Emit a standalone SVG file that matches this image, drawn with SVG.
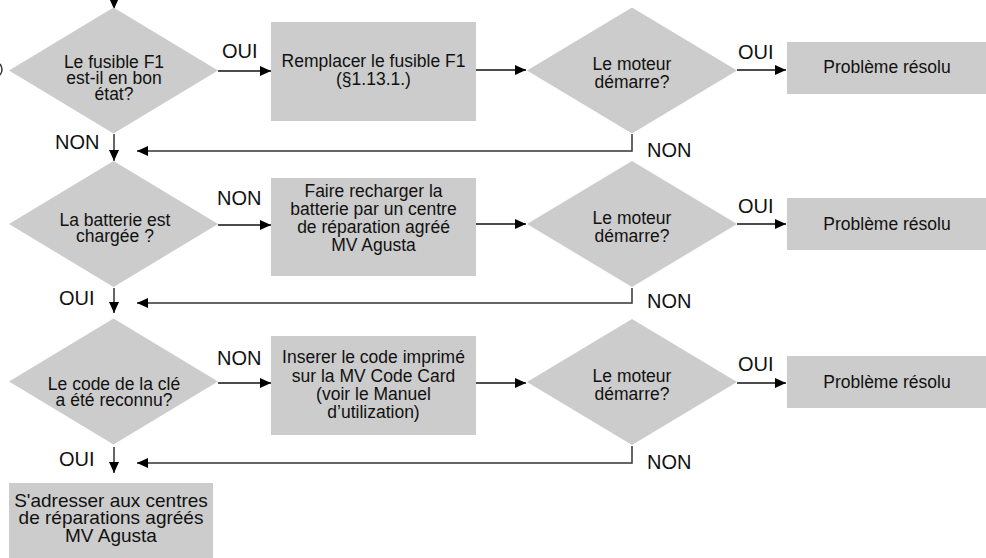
<svg xmlns="http://www.w3.org/2000/svg" width="986" height="558" viewBox="0 0 986 558">
<style>
.shape{fill:#cccccc;stroke:none}
.t{font-family:"Liberation Sans",Arial,sans-serif;font-size:17.5px;fill:#111;text-anchor:middle}
.t4{font-family:"Liberation Sans",Arial,sans-serif;font-size:19px;fill:#111;text-anchor:middle}
.lbl{font-family:"Liberation Sans",Arial,sans-serif;font-size:20px;fill:#111}
.c{fill:none;stroke:#111;stroke-width:1.3}
.r{fill:none;stroke:#333;stroke-width:1.5}
</style>
<defs>
<marker id="ah" markerWidth="11" markerHeight="10" refX="11" refY="5" orient="auto" markerUnits="userSpaceOnUse">
<path d="M0,0 L11,5 L0,10 z" fill="#000"/>
</marker>
</defs>
<path d="M0,64 Q4,69.5 0,75" fill="none" stroke="#333" stroke-width="1.5"/>
<g id="connectors">
<path class="c" d="M114,0 L114,9" marker-end="url(#ah)"/>
<path class="c" d="M218,71 L271,71" marker-end="url(#ah)"/>
<path class="c" d="M476,70 L526,70" marker-end="url(#ah)"/>
<path class="c" d="M737,70 L786,70" marker-end="url(#ah)"/>
<path class="r" d="M632,134 L632,151 L137,151" marker-end="url(#ah)"/>
<path class="c" d="M114,134 L114,161" marker-end="url(#ah)"/>
<path class="c" d="M218,225 L271,225" marker-end="url(#ah)"/>
<path class="c" d="M476,224 L526,224" marker-end="url(#ah)"/>
<path class="c" d="M737,224 L786,224" marker-end="url(#ah)"/>
<path class="r" d="M632,288 L632,303 L137,303" marker-end="url(#ah)"/>
<path class="c" d="M114,288 L114,313" marker-end="url(#ah)"/>
<path class="c" d="M218,383 L271,383" marker-end="url(#ah)"/>
<path class="c" d="M476,383 L526,383" marker-end="url(#ah)"/>
<path class="c" d="M737,383 L786,383" marker-end="url(#ah)"/>
<path class="r" d="M632,446 L632,463 L137,463" marker-end="url(#ah)"/>
<path class="c" d="M114,447 L114,473" marker-end="url(#ah)"/>
<text class="lbl" x="222" y="58">OUI</text>
<text class="lbl" x="738" y="59">OUI</text>
<text class="lbl" x="55" y="149">NON</text>
<text class="lbl" x="647" y="157">NON</text>
<text class="lbl" x="217" y="205">NON</text>
<text class="lbl" x="738" y="213">OUI</text>
<text class="lbl" x="59" y="305">OUI</text>
<text class="lbl" x="647" y="308">NON</text>
<text class="lbl" x="217" y="365">NON</text>
<text class="lbl" x="738" y="371">OUI</text>
<text class="lbl" x="59" y="466">OUI</text>
<text class="lbl" x="647" y="469">NON</text>
</g>
<g id="d1">
<polygon class="shape" points="113.5,7.5 218,70.5 113.5,133.5 9,70.5"/>
<text class="t" x="114" y="68">Le fusible F1</text>
<text class="t" x="114" y="84">est-il en bon</text>
<text class="t" x="114" y="99.5">état?</text>
</g>
<g id="b1">
<rect class="shape" x="271" y="22" width="205" height="99"/>
<text class="t" x="373.5" y="67">Remplacer le fusible F1</text>
<text class="t" x="373.5" y="85">(§1.13.1.)</text>
</g>
<g id="m1">
<polygon class="shape" points="632,7.5 737,70.5 632,133.5 527,70.5"/>
<text class="t" x="632" y="70">Le moteur</text>
<text class="t" x="632" y="88">démarre?</text>
</g>
<g id="r1">
<rect class="shape" x="787" y="42" width="199" height="52"/>
<text class="t" x="887" y="73">Problème résolu</text>
</g>
<g id="d2">
<polygon class="shape" points="113.5,161 218,224 113.5,287 9,224"/>
<text class="t" x="115" y="226">La batterie est</text>
<text class="t" x="115" y="242">chargée ?</text>
</g>
<g id="b2">
<rect class="shape" x="271" y="178" width="205" height="98"/>
<text class="t" x="373.5" y="197">Faire recharger la</text>
<text class="t" x="373.5" y="215">batterie par un centre</text>
<text class="t" x="373.5" y="233">de réparation agréé</text>
<text class="t" x="373.5" y="251">MV Agusta</text>
</g>
<g id="m2">
<polygon class="shape" points="632,161 737,224 632,287 527,224"/>
<text class="t" x="632" y="223.5">Le moteur</text>
<text class="t" x="632" y="241.5">démarre?</text>
</g>
<g id="r2">
<rect class="shape" x="787" y="198" width="199" height="52"/>
<text class="t" x="887" y="229.5">Problème résolu</text>
</g>
<g id="d3">
<polygon class="shape" points="113.5,318.5 218,381.5 113.5,444.5 9,381.5"/>
<text class="t" x="114" y="390">Le code de la clé</text>
<text class="t" x="114" y="406">a été reconnu?</text>
</g>
<g id="b3">
<rect class="shape" x="271" y="336" width="205" height="99"/>
<text class="t" x="373.5" y="363.3">Inserer le code imprimé</text>
<text class="t" x="373.5" y="381.7">sur la MV Code Card</text>
<text class="t" x="373.5" y="400">(voir le Manuel</text>
<text class="t" x="373.5" y="418.3">d’utilization)</text>
</g>
<g id="m3">
<polygon class="shape" points="632,319 737,382 632,445 527,382"/>
<text class="t" x="632" y="381.5">Le moteur</text>
<text class="t" x="632" y="399.5">démarre?</text>
</g>
<g id="r3">
<rect class="shape" x="787" y="356" width="199" height="52"/>
<text class="t" x="887" y="387.5">Problème résolu</text>
</g>
<g id="b4">
<rect class="shape" x="9" y="483" width="204" height="75"/>
<text class="t4" x="111" y="506.7">S'adresser aux centres</text>
<text class="t4" x="111" y="524">de réparations agréés</text>
<text class="t4" x="111" y="542">MV Agusta</text>
</g>
</svg>
